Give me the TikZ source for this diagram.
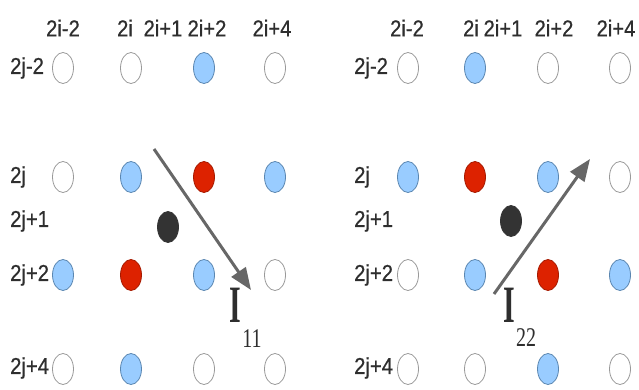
\documentclass[tikz,border=0pt]{standalone}
\usepackage{fontspec}
\setmainfont[FakeStretch=0.88, FakeBold=0.6]{Liberation Sans}
\newfontfamily\labelfont{Liberation Serif}
\usetikzlibrary{arrows.meta, shapes.geometric}

\definecolor{siteblue}{HTML}{99CCFF}
\definecolor{siteblueline}{HTML}{5A86B0}
\definecolor{sitered}{HTML}{DD2200}
\definecolor{siteredline}{HTML}{A51A00}
\definecolor{sitedark}{HTML}{333333}
\definecolor{vecgray}{HTML}{676767}
\definecolor{inkgray}{HTML}{2E2E2E}

\begin{document}
\begin{tikzpicture}[x=1pt, y=-1pt,
        site/.style={ellipse, minimum width=21pt, minimum height=31pt, inner sep=0pt, line width=0.8pt},
        emptysite/.style={site, draw=gray!80, fill=white},
        bluesite/.style={site, draw=siteblueline, fill=siteblue},
        redsite/.style={site, draw=siteredline, fill=sitered},
        blacksite/.style={site, draw=sitedark, fill=sitedark},
        idx/.style={font=\fontsize{23}{24}\selectfont, text=inkgray, inner sep=0pt},
        rowidx/.style={idx, anchor=west},
        vec/.style={draw=vecgray, line width=3pt, -{Triangle[length=22pt, width=17pt]}},
        bigI/.style={inner sep=0pt, text=inkgray, font=\labelfont\bfseries\fontsize{30}{30}\selectfont},
        subidx/.style={inner sep=0pt, text=inkgray, font=\labelfont\fontsize{20}{20}\selectfont}]
        \useasboundingbox (0,0) rectangle (639,390);

        % left panel: column and row indices
        \node[idx] (colL1) at (63,28) {2i-2};
        \node[idx] (colL2) at (125,28) {2i};
        \node[idx] (colL3) at (163,28) {2i+1};
        \node[idx] (colL4) at (207,28) {2i+2};
        \node[idx] (colL5) at (272,28) {2i+4};
        \node[rowidx] (rowL1) at (10,68) {2j-2};
        \node[rowidx] (rowL2) at (10,177) {2j};
        \node[rowidx] (rowL3) at (10,221) {2j+1};
        \node[rowidx] (rowL4) at (10,275) {2j+2};
        \node[rowidx] (rowL5) at (10,368) {2j+4};

        % left panel: sites
        \node[emptysite] (pL11) at (63,68) {};
        \node[emptysite] (pL12) at (131,68) {};
        \node[bluesite]  (pL13) at (204,68) {};
        \node[emptysite] (pL14) at (275,68) {};
        \node[emptysite] (pL21) at (63,177) {};
        \node[bluesite]  (pL22) at (131,177) {};
        \node[redsite]   (pL23) at (204,177) {};
        \node[bluesite]  (pL24) at (275,177) {};
        \node[bluesite]  (pL31) at (63,275) {};
        \node[redsite]   (pL32) at (131,275) {};
        \node[bluesite]  (pL33) at (204,275) {};
        \node[emptysite] (pL34) at (275,275) {};
        \node[emptysite] (pL41) at (63,369) {};
        \node[bluesite]  (pL42) at (131,369) {};
        \node[emptysite] (pL43) at (204,369) {};
        \node[emptysite] (pL44) at (275,369) {};
        \node[blacksite] (cL) at (168,227) {};

        \coordinate (sL) at (154,149);
        \coordinate (eL) at (251,290);
        \draw[vec] (sL) -- (eL);
        \node[bigI] (IL) at (235,305) {\scalebox{1}[1.75]{I}};
        \node[subidx] (nL) at (252,339) {\scalebox{1}[1.35]{11}};

        % right panel: column and row indices
        \node[idx] (colR1) at (407,28) {2i-2};
        \node[idx] (colR2) at (471,28) {2i};
        \node[idx] (colR3) at (503,28) {2i+1};
        \node[idx] (colR4) at (554,28) {2i+2};
        \node[idx] (colR5) at (616,28) {2i+4};
        \node[rowidx] (rowR1) at (354,68) {2j-2};
        \node[rowidx] (rowR2) at (354,177) {2j};
        \node[rowidx] (rowR3) at (354,221) {2j+1};
        \node[rowidx] (rowR4) at (354,275) {2j+2};
        \node[rowidx] (rowR5) at (354,368) {2j+4};

        % right panel: sites
        \node[emptysite] (pR11) at (408,68) {};
        \node[bluesite]  (pR12) at (475,68) {};
        \node[emptysite] (pR13) at (548,68) {};
        \node[emptysite] (pR14) at (620,68) {};
        \node[bluesite]  (pR21) at (408,177) {};
        \node[redsite]   (pR22) at (475,177) {};
        \node[bluesite]  (pR23) at (548,177) {};
        \node[emptysite] (pR24) at (620,177) {};
        \node[emptysite] (pR31) at (408,275) {};
        \node[bluesite]  (pR32) at (475,275) {};
        \node[redsite]   (pR33) at (548,275) {};
        \node[bluesite]  (pR34) at (620,275) {};
        \node[emptysite] (pR41) at (408,369) {};
        \node[emptysite] (pR42) at (475,369) {};
        \node[bluesite]  (pR43) at (548,369) {};
        \node[emptysite] (pR44) at (620,369) {};
        \node[blacksite] (cR) at (511,221) {};

        \coordinate (sR) at (494,294);
        \coordinate (eR) at (590,159);
        \draw[vec] (sR) -- (eR);
        \node[bigI] (IR) at (509,305) {\scalebox{1}[1.75]{I}};
        \node[subidx] (nR) at (526,338) {\scalebox{1}[1.35]{22}};
\end{tikzpicture}
\end{document}
